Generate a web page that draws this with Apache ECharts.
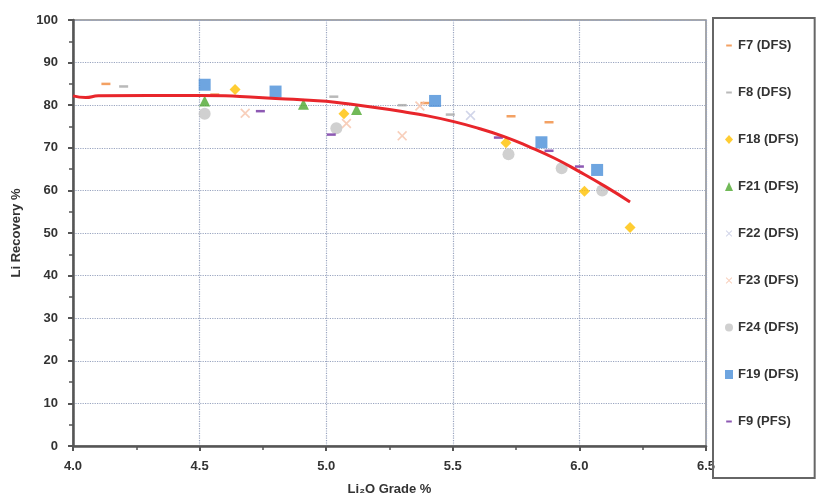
<!DOCTYPE html>
<html><head><meta charset="utf-8">
<script src="https://cdn.jsdelivr.net/npm/echarts@6/dist/echarts.min.js"></script>
<style>html,body{margin:0;padding:0;background:#fff}#c{width:817px;height:499px}</style>
</head><body><div id="c"></div>
<script>
const seriesNames = ['F7 (DFS)','F8 (DFS)','F18 (DFS)','F21 (DFS)','F22 (DFS)','F23 (DFS)','F24 (DFS)','F19 (DFS)','F9 (PFS)'];
const f7  = [[4.13,85.0],[4.56,82.5],[5.39,80.5],[5.73,77.4],[5.88,76.0]];
const f8  = [[4.20,84.4],[5.03,82.0],[5.30,80.0],[5.49,77.8]];
const f18 = [[4.64,83.7],[5.07,78.0],[5.71,71.2],[6.02,59.8],[6.20,51.3]];
const f21 = [[4.52,81.0],[4.91,80.2],[5.12,79.0]];
const f22 = [[5.57,77.6]];
const f23 = [[4.68,78.1],[5.08,75.7],[5.30,72.8],[5.37,79.8]];
const f24 = [[4.52,78.0],[5.04,74.6],[5.72,68.5],[5.93,65.2],[6.09,60.0]];
const f19 = [[4.52,84.8],[4.80,83.2],[5.43,81.0],[5.85,71.3],[6.07,64.8]];
const f9  = [[4.74,78.6],[5.02,73.1],[5.68,72.4],[5.88,69.3],[6.00,65.6]];
const trend = [[4.0,82.2],[4.05,81.8],[4.1,82.2],[4.3,82.3],[4.5,82.3],[4.6,82.2],[4.7,81.9],[4.8,81.6],[4.9,81.3],[5.0,80.9],[5.1,80.2],[5.2,79.4],[5.3,78.5],[5.4,77.5],[5.5,76.2],[5.6,74.6],[5.7,72.7],[5.8,70.3],[5.9,67.6],[6.0,64.4],[6.1,61.0],[6.2,57.3]];
const xTicks = [4.0,4.5,5.0,5.5,6.0,6.5];

const XPATH = 'path://M0,1.2L1.2,0L5,3.8L8.8,0L10,1.2L6.2,5L10,8.8L8.8,10L5,6.2L1.2,10L0,8.8L3.8,5Z';
const DASHICON = 'path://M0,0L0.01,0L0,0.01Z M1.5,3.8L8.5,3.8L8.5,6.2L1.5,6.2Z M10,10L9.99,10L10,9.99Z';
const SMALLX = 'path://M0,0L0.01,0L0,0.01Z M10,10L9.99,10L10,9.99Z M1,1.8L1.8,1L5,4.2L8.2,1L9,1.8L5.8,5L9,8.2L8.2,9L5,5.8L1.8,9L1,8.2L4.2,5Z';
const styles = [
  {data:f7,  symbol:'rect', size:[9,2.5], color:'#f08a3c', icon:DASHICON},
  {data:f8,  symbol:'rect', size:[9,2.5], color:'#a8a8a8', icon:DASHICON},
  {data:f18, symbol:'diamond', size:11, color:'#ffc000', icon:'diamond'},
  {data:f21, symbol:'triangle', size:11, color:'#4ea72e', icon:'triangle'},
  {data:f22, symbol:XPATH, size:10, color:'#c5cbe3', icon:SMALLX},
  {data:f23, symbol:XPATH, size:10, color:'#f6c3aa', icon:SMALLX},
  {data:f24, symbol:'circle', size:12, color:'#c4c4c4', icon:'circle'},
  {data:f19, symbol:'rect', size:12, color:'#4a8fd8', icon:'rect'},
  {data:f9,  symbol:'rect', size:[9,2.5], color:'#7030a0', icon:DASHICON}
];
const series = styles.map((s,i)=>({
  name: seriesNames[i], type:'scatter', data:s.data, symbol:s.symbol, symbolSize:s.size,
  itemStyle:{color:s.color}, z:3
}));
series.push({name:'trend', type:'line', data:trend, smooth:true, showSymbol:false, symbol:'none',
  lineStyle:{color:'#e8262b', width:3}, z:4, silent:true});

const chart = echarts.init(document.getElementById('c'));
const lbl = {color:'#333', fontWeight:'bold', fontSize:13, fontFamily:'Liberation Sans, Arial, sans-serif'};
chart.setOption({
  animation:false,
  grid:{left:73, right:111, top:20, bottom:53, show:true, borderColor:'#8a8a8a', borderWidth:1.5, outerBoundsMode:'none', containLabel:false},
  legend:{
    data:seriesNames.map((n,i)=>({name:n, icon:styles[i].icon})),
    orient:'vertical', left:713, top:18,
    padding:[21,16,50,12], itemGap:34, itemWidth:8, itemHeight:9,
    borderColor:'#666', borderWidth:2,
    textStyle:{color:'#333', fontWeight:'bold', fontSize:13, fontFamily:'Liberation Sans, Arial, sans-serif'}
  },
  xAxis:{
    type:'value', min:xTicks[0], max:xTicks[xTicks.length-1], interval:0.5,
    name:'Li₂O Grade %', nameLocation:'middle', nameGap:37,
    nameTextStyle:Object.assign({},lbl,{fontSize:13}),
    axisLine:{lineStyle:{color:'#555', width:2.5}},
    axisTick:{show:true, length:5, lineStyle:{color:'#555', width:2}},
    minorTick:{show:true, splitNumber:2, length:4, lineStyle:{color:'#555', width:1.5}},
    axisLabel:Object.assign({},lbl,{formatter:v=>v.toFixed(1), margin:14}),
    splitLine:{show:true, lineStyle:{color:'#9aa5c0', type:'dotted', width:1.2}}
  },
  yAxis:{
    type:'value', min:0, max:100, interval:10,
    name:'Li Recovery %', nameLocation:'middle', nameGap:50, nameRotate:90,
    nameTextStyle:Object.assign({},lbl,{fontSize:13}),
    axisLine:{show:true, lineStyle:{color:'#555', width:2.5}},
    axisTick:{show:true, length:5, lineStyle:{color:'#555', width:2}},
    minorTick:{show:true, splitNumber:2, length:4, lineStyle:{color:'#555', width:1.5}},
    axisLabel:Object.assign({},lbl,{margin:15}),
    splitLine:{show:true, lineStyle:{color:'#9aa5c0', type:'dotted', width:1.2}}
  },
  series: series
});
</script></body></html>
